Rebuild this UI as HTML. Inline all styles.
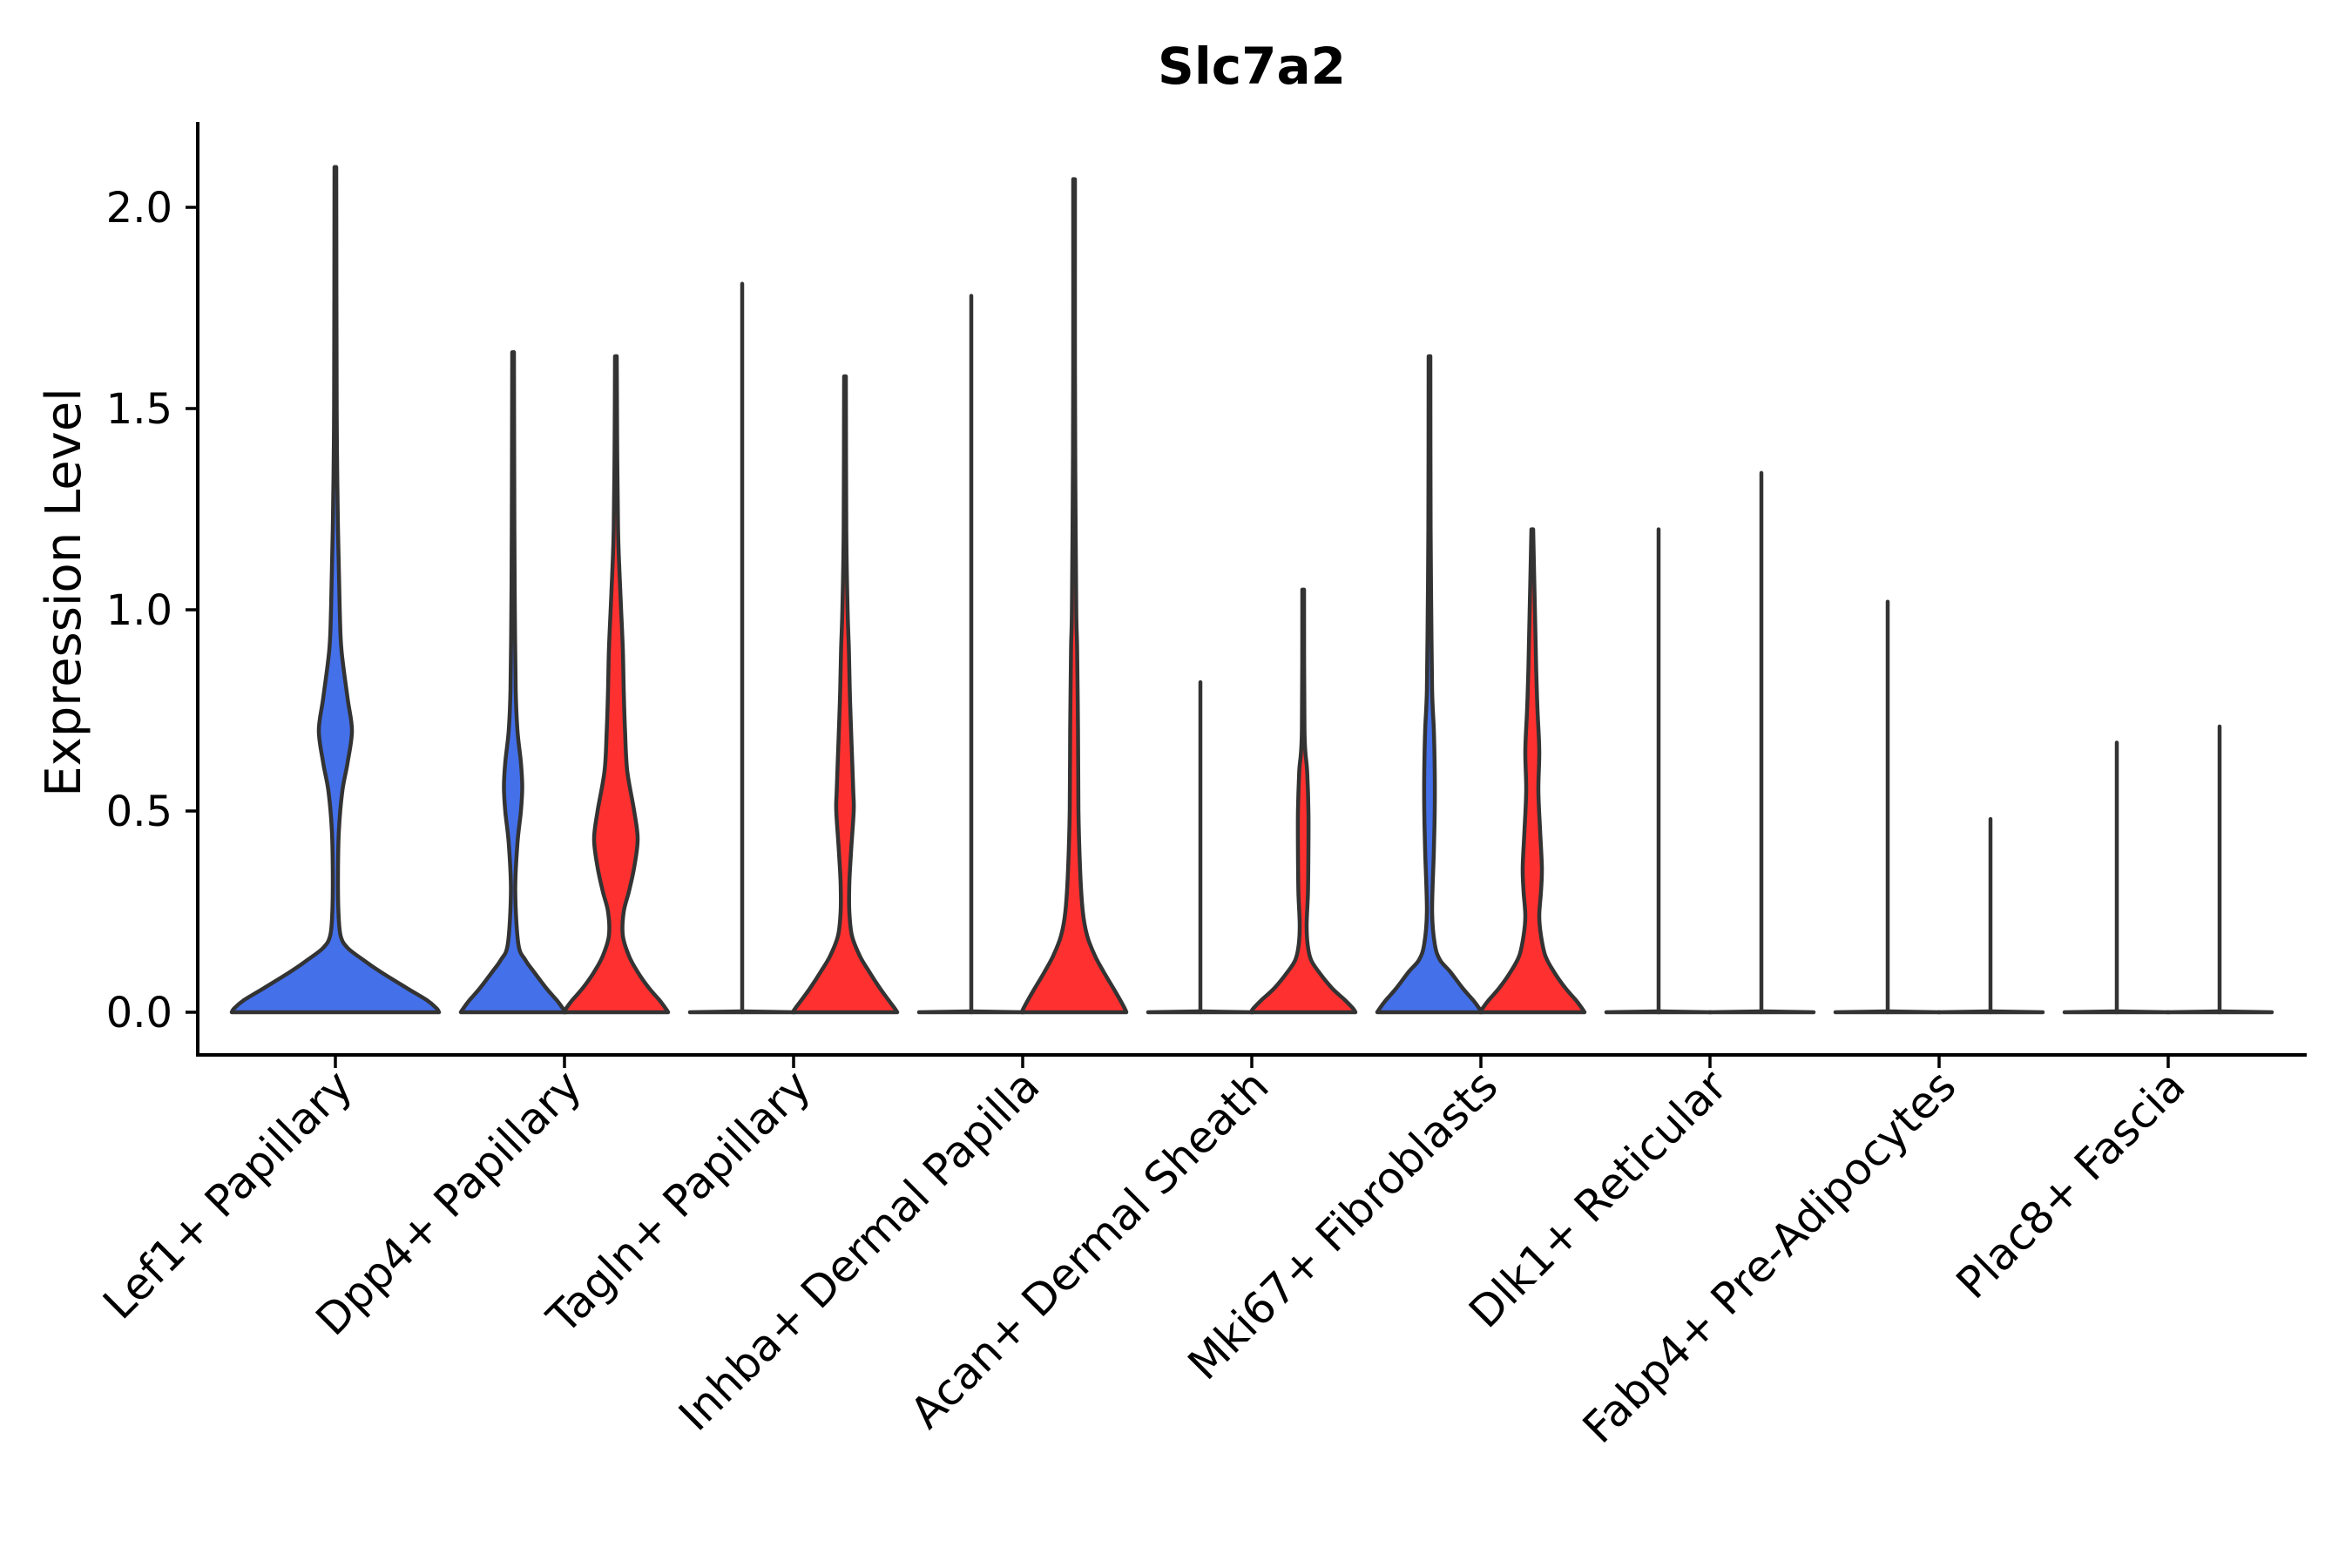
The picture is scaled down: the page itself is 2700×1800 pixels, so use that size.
<!DOCTYPE html>
<html><head><meta charset="utf-8"><style>
html,body{margin:0;padding:0;background:#fff;}
svg{display:block;font-family:"Liberation Sans","DejaVu Sans",sans-serif;}
</style></head><body>
<svg id="chart" width="2700" height="1800" viewBox="0 0 2700 1800" xmlns="http://www.w3.org/2000/svg">
<rect width="2700" height="1800" fill="#fff"/>
<text x="1437" y="96" text-anchor="middle" font-size="58" font-weight="bold" font-family="DejaVu Sans, sans-serif">Slc7a2</text>
<text transform="translate(92,680) rotate(-90)" text-anchor="middle" font-size="56" font-family="DejaVu Sans, sans-serif">Expression Level</text>
<g id="plot"></g>
</svg>
<script>
const categories = ["Lef1+ Papillary","Dpp4+ Papillary","Tagln+ Papillary","Inhba+ Dermal Papilla","Acan+ Dermal Sheath","Mki67+ Fibroblasts","Dlk1+ Reticular","Fabp4+ Pre-Adipocytes","Plac8+ Fascia"];
const yTicks = [0, 0.5, 1.0, 1.5, 2.0];
const yTickLabels = ["0.0","0.5","1.0","1.5","2.0"];
// per violin: category index, group (0 blue,1 red,-1 single)
const violinCategory = [0,1,1,2,2,3,3,4,4,5,5,6,6,7,7,8,8];
const violinGroup = [-1,0,1,0,1,0,1,0,1,0,1,0,1,0,1,0,1];
const violinMax = [2.10,1.64,1.63,1.81,1.58,1.78,2.07,0.82,1.05,1.63,1.20,1.20,1.34,1.02,0.48,0.67,0.71];
// density knots: expression level and half-width (density units)
const violinLevels = [
 [0,0.01,0.03,0.06,0.1,0.13,0.16,0.19,0.25,0.35,0.45,0.55,0.62,0.7,0.78,0.9,1.0,1.2,1.5,2.1],
 [0,0.01,0.03,0.06,0.1,0.13,0.17,0.3,0.42,0.5,0.56,0.62,0.7,0.8,1.0,1.2,1.64],
 [0,0.01,0.03,0.06,0.1,0.14,0.19,0.25,0.3,0.36,0.43,0.5,0.6,0.7,0.8,0.9,1.0,1.1,1.2,1.4,1.63],
 [0,0.01,1.81],
 [0,0.01,0.03,0.06,0.1,0.14,0.19,0.25,0.32,0.4,0.5,0.55,0.7,0.8,0.9,1.0,1.2,1.58],
 [0,0.01,1.78],
 [0,0.01,0.03,0.06,0.1,0.14,0.19,0.25,0.35,0.5,0.7,0.9,1.0,1.3,1.6,2.07],
 [0,0.01,0.82],
 [0,0.01,0.03,0.06,0.1,0.13,0.17,0.22,0.3,0.4,0.5,0.6,0.7,1.05],
 [0,0.01,0.03,0.06,0.1,0.13,0.17,0.25,0.4,0.5,0.6,0.7,0.8,1.0,1.2,1.63],
 [0,0.01,0.03,0.06,0.1,0.14,0.19,0.24,0.3,0.36,0.45,0.55,0.65,0.75,0.85,1.0,1.2],
 [0,0.01,1.20],
 [0,0.01,1.34],
 [0,0.01,1.02],
 [0,0.01,0.48],
 [0,0.01,0.67],
 [0,0.01,0.71]
];
const violinWidths = [
 [119,116,105,82,52,32,14,6,3.5,3,4,8,14,19,14,7,5,3,1.5,1],
 [60,57,50,38,24,14,6,2.5,5,9,10.5,9,5,3,2,1.5,1],
 [60,57,50,38,25,15,8,9,15,21,25,21,13,10.5,9,8,6,4,2.5,1.5,1],
 [60,1,1],
 [60,57,50,40,28,17,8,5,5,7,10,9.5,7,5.5,4.5,3,1.5,1],
 [60,1,1],
 [60,58,53,45,34,24,15,10,7,5,4.5,3.5,2.5,1.5,1,1],
 [60,1,1],
 [60,57,48,33,18,9,5,4,5.5,6,6,4.5,1.5,1],
 [60,57,50,38,24,12,6,3,5,6,6,5,3,2,1.3,1],
 [60,57,50,38,25,15,10,8,10,11,9,7,8,6,4.5,3,1]
 ,[60,1,1],[60,1,1],[60,1,1],[60,1,1],[60,1,1],[60,1,1]
];
const groupColors = ["#4470EA","#FF3030"];

const NS="http://www.w3.org/2000/svg";
const plot=document.getElementById('plot');
const X0=385, STEP=263, DODGE=59;
function xScale(i){return X0+i*STEP;}
function yScale(v){return 1162 - v*462;}
function mk(tag,attrs){const e=document.createElementNS(NS,tag);for(const k in attrs)e.setAttribute(k,attrs[k]);plot.appendChild(e);return e;}
function smooth(pts,cx,sgn){
  let d="";
  const cl=x=>sgn>0?Math.max(x,cx):Math.min(x,cx);
  for(let i=0;i<pts.length-1;i++){
    const p0=pts[Math.max(i-1,0)],p1=pts[i],p2=pts[i+1],p3=pts[Math.min(i+2,pts.length-1)];
    const c1=[cl(p1[0]+(p2[0]-p0[0])/6),p1[1]+(p2[1]-p0[1])/6];
    const c2=[cl(p2[0]-(p3[0]-p1[0])/6),p2[1]-(p3[1]-p1[1])/6];
    d+=` C${c1[0].toFixed(1)},${c1[1].toFixed(1)} ${c2[0].toFixed(1)},${c2[1].toFixed(1)} ${p2[0].toFixed(1)},${p2[1].toFixed(1)}`;
  }
  return d;
}
for(let v=0;v<violinCategory.length;v++){
  const g=violinGroup[v];
  const cx=xScale(violinCategory[v])+(g<0?0:(g===0?-DODGE:DODGE));
  const lv=violinLevels[v].slice(), wd=violinWidths[v].slice();
  lv[lv.length-1]=violinMax[v];
  const y0=yScale(0);
  let d;
  const flat = wd[1]<=1;
  if(flat){
    d=`M${cx-wd[0]},${y0} L${cx},${y0-1} L${cx+wd[0]},${y0} Z`;
  } else {
    const right=lv.map((l,i)=>[cx+wd[i],yScale(l)]);
    const left=lv.map((l,i)=>[cx-wd[i],yScale(l)]).reverse();
    d=`M${cx-wd[0]},${y0} L${right[0][0]},${right[0][1]}`+smooth(right,cx,1)+` L${left[0][0]},${left[0][1]}`+smooth(left,cx,-1)+" Z";
  }
  const p=mk('path',{d:d,fill:groupColors[g<0?0:g],stroke:'#333','stroke-width':4.5,'stroke-linejoin':'round'});
  
  
  if(flat){
    const l=mk('line',{x1:cx,x2:cx,y1:y0,y2:yScale(violinMax[v]),stroke:'#333','stroke-width':4.5,'stroke-linecap':'round'});
    
    
  }
}
const ya=mk('line',{x1:227,x2:227,y1:140,y2:1212,stroke:'#000','stroke-width':4});


const xa=mk('line',{x1:225,x2:2648,y1:1211,y2:1211,stroke:'#000','stroke-width':4});


yTicks.forEach((t,i)=>{
  const tk=mk('line',{x1:213,x2:227,y1:yScale(t),y2:yScale(t),stroke:'#000','stroke-width':3.5});
  
  
  const tx=mk('text',{x:198,y:yScale(t)+17,'text-anchor':'end','font-size':48,'font-family':'DejaVu Sans, sans-serif',fill:'#000'});
  tx.textContent=yTickLabels[i];
  
  
});
categories.forEach((c,i)=>{
  const x=xScale(i);
  const tk=mk('line',{x1:x,x2:x,y1:1211,y2:1226,stroke:'#000','stroke-width':3.5});
  
  
  const tx=mk('text',{transform:`translate(${x+22},${1250}) rotate(-45)`,'text-anchor':'end','font-size':50,'font-family':'DejaVu Sans, sans-serif',fill:'#000'});
  tx.textContent=c;
  
  
});
</script>
</body></html>
